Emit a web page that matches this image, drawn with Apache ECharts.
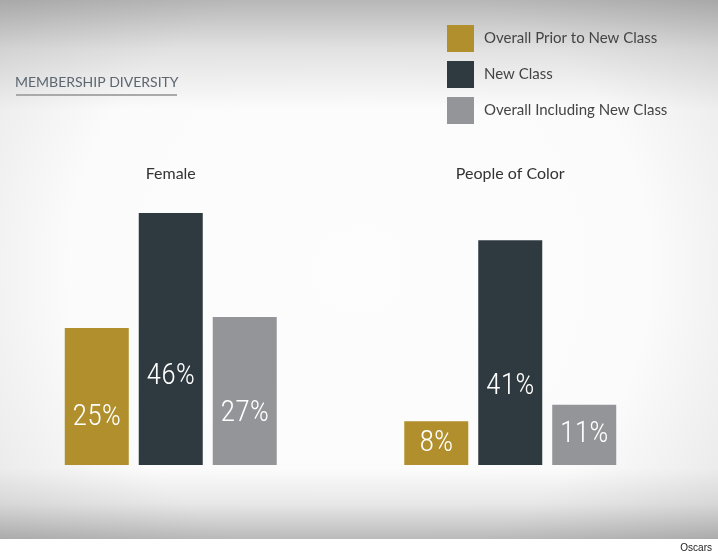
<!DOCTYPE html>
<html>
<head>
<meta charset="utf-8">
<script src="https://cdn.jsdelivr.net/npm/echarts@6/dist/echarts.min.js"></script>
<style>
  html, body { margin: 0; padding: 0; background: #fff; }
  #chart { width: 718px; height: 559px; }
</style>
</head>
<body>
<div id="chart"></div>
<script>
// data
const categories = ['Female', 'People of Color'];
const seriesNames = ['Overall Prior to New Class', 'New Class', 'Overall Including New Class'];
const priorValues = [25, 8];
const newClassValues = [46, 41];
const includingValues = [27, 11];
const barColors = ['#b08f2c', '#2f3a40', '#939598'];

const chart = echarts.init(document.getElementById('chart'));

// label sits lower in the tall bars, centred in the short ones
function makeSeries(name, values, color) {
  return {
    name: name,
    type: 'bar',
    barWidth: 64,
    barGap: '15.6%',
    itemStyle: { color: color },
    data: values.map(function (v) {
      return {
        value: v,
        label: { position: v >= 20 ? ['50%', '65%'] : ['50%', '50%'] }
      };
    }),
    label: {
      show: true,
      align: 'center',
      verticalAlign: 'middle',
      formatter: '{c}%',
      color: '#ffffff',
      fontSize: 30,
      fontWeight: 300,
      fontFamily: '"Roboto Condensed", "Open Sans Condensed", Roboto, sans-serif'
    }
  };
}

chart.setOption({
  backgroundColor: '#ffffff',
  animation: false,
  title: {
    text: 'MEMBERSHIP DIVERSITY',
    left: 15,
    top: 75,
    padding: 0,
    textStyle: { fontSize: 14, fontWeight: 'normal', color: '#5c6670', fontFamily: 'Lato' }
  },
  legend: {
    orient: 'vertical',
    left: 447,
    top: 25,
    padding: 0,
    itemWidth: 27,
    itemHeight: 27,
    itemGap: 9,
    icon: 'rect',
    data: seriesNames,
    textStyle: { fontSize: 15, color: '#444', fontFamily: 'Lato', padding: [3, 0, 0, 5] }
  },
  grid: { left: 1, right: 38, top: 191, bottom: 94 },
  xAxis: {
    type: 'category',
    position: 'top',
    data: categories,
    axisLine: { show: false },
    axisTick: { show: false },
    axisLabel: { margin: 9, fontSize: 16, color: '#333', fontFamily: 'Lato' }
  },
  yAxis: {
    type: 'value',
    min: 0,
    max: 50,
    show: false,
    splitLine: { show: false }
  },
  graphic: [
    {
      type: 'rect', z: -10, silent: true,
      shape: { x: 0, y: 0, width: 718, height: 539 },
      style: {
        fill: new echarts.graphic.RadialGradient(0.5, 0.5, 0.9, [
          { offset: 0, color: '#fdfdfd' },
          { offset: 0.6, color: '#fbfbfb' },
          { offset: 1, color: '#e2e2e2' }
        ])
      }
    },
    {
      type: 'rect', z: -9, silent: true,
      shape: { x: 0, y: 0, width: 718, height: 110 },
      style: {
        fill: new echarts.graphic.LinearGradient(0, 0, 0, 1, [
          { offset: 0, color: 'rgba(0,0,0,0.27)' },
          { offset: 0.45, color: 'rgba(0,0,0,0.1)' },
          { offset: 1, color: 'rgba(0,0,0,0)' }
        ])
      }
    },
    {
      type: 'rect', z: -9, silent: true,
      shape: { x: 0, y: 468, width: 718, height: 71 },
      style: {
        fill: new echarts.graphic.LinearGradient(0, 0, 0, 1, [
          { offset: 0, color: 'rgba(0,0,0,0)' },
          { offset: 0.5, color: 'rgba(0,0,0,0.08)' },
          { offset: 1, color: 'rgba(0,0,0,0.26)' }
        ])
      }
    },
    {
      type: 'line', silent: true,
      shape: { x1: 16, y1: 95, x2: 177, y2: 95 },
      style: { stroke: '#a9a9a9', lineWidth: 2 }
    },
    {
      type: 'text', right: 6, top: 543, silent: true,
      style: { text: 'Oscars', fontSize: 10, fill: '#222', fontFamily: 'Liberation Sans' }
    }
  ],
  series: [
    makeSeries(seriesNames[0], priorValues, barColors[0]),
    makeSeries(seriesNames[1], newClassValues, barColors[1]),
    makeSeries(seriesNames[2], includingValues, barColors[2])
  ]
});
</script>
</body>
</html>
